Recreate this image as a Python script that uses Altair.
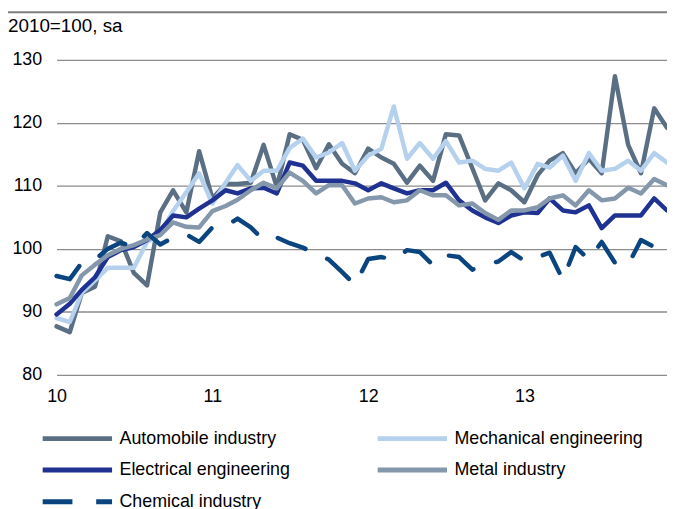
import altair as alt
import pandas as pd

# ---- data (monthly, Jan 2010 - Dec 2013, index 2010=100, seasonally adjusted) ----
months = pd.date_range("2010-01-01", periods=48, freq="MS")

series_names = [
    "Automobile industry",
    "Mechanical engineering",
    "Electrical engineering",
    "Metal industry",
    "Chemical industry",
]

automobile = [87.7, 86.8, 93.0, 94.0, 102.0, 101.2, 96.2, 94.2, 105.8, 109.3,
              105.8, 115.5, 108.0, 110.3, 110.3, 110.5, 116.5, 109.8, 118.2, 117.3,
              112.8, 116.6, 113.5, 112.0, 115.9, 114.5, 113.5, 110.5, 113.2, 110.8,
              118.2, 118.0, 112.8, 107.7, 110.4, 109.3, 107.4, 111.7, 114.0, 115.2,
              112.0, 114.3, 112.0, 127.4, 116.5, 112.0, 122.3, 119.2]
mechanical = [89.0, 88.4, 93.0, 95.0, 97.0, 97.0, 97.0, 101.1, 102.4, 106.0,
              109.0, 112.0, 107.2, 110.5, 113.3, 110.8, 112.4, 112.4, 116.0, 117.5,
              114.5, 115.3, 116.8, 112.4, 114.8, 115.9, 122.6, 114.3, 116.8, 114.3,
              117.1, 113.7, 114.0, 112.7, 112.4, 113.7, 109.6, 113.5, 112.9, 114.8,
              110.8, 115.2, 112.4, 112.7, 114.0, 112.4, 115.2, 113.7]
electrical = [89.6, 91.3, 93.5, 95.5, 98.7, 99.8, 100.3, 101.4, 103.0, 105.3,
              105.0, 106.4, 107.7, 109.3, 108.8, 109.6, 109.7, 108.8, 113.7, 113.2,
              110.8, 110.8, 110.8, 110.4, 109.3, 110.4, 109.6, 108.8, 109.3, 109.3,
              110.5, 107.7, 106.1, 105.0, 104.1, 105.3, 105.8, 105.7, 108.0, 106.1,
              105.8, 106.9, 103.3, 105.3, 105.3, 105.3, 108.0, 106.1]
metal = [91.2, 92.2, 95.8, 97.5, 99.0, 100.0, 100.6, 101.5, 102.2, 104.2,
         103.5, 103.4, 106.0, 106.8, 107.8, 109.3, 110.5, 109.6, 112.1, 110.8,
         108.8, 110.1, 110.1, 107.2, 108.0, 108.2, 107.4, 107.7, 109.3, 108.5,
         108.5, 106.9, 107.2, 105.7, 104.6, 106.1, 106.1, 106.6, 108.0, 108.5,
         106.9, 109.3, 107.7, 108.0, 109.7, 108.8, 111.1, 110.1]
chemical = [95.7, 95.2, 97.8, 98.3, 100.0, 101.0, 100.3, 102.5, 100.7, 101.8,
            102.3, 101.1, 103.4, 103.6, 104.8, 103.4, 101.4, 101.8, 100.9, 100.2,
            99.2, 98.3, 96.3, 94.3, 98.4, 98.7, 98.3, 99.8, 99.5, 97.4,
            99.0, 98.7, 96.7, 97.5, 98.0, 99.5, 98.1, 98.7, 99.4, 95.1,
            100.3, 98.3, 101.1, 97.8, 97.5, 101.4, 100.3, 101.5]

y_ticks = [80, 90, 100, 110, 120, 130]
title_text = "2010=100, sa"

colors = ["#5b6f84", "#b5d1ee", "#1f3292", "#8597ab", "#0b4580"]
dashes = [[], [], [], [], [30, 24]]

values = [automobile, mechanical, electrical, metal, chemical]
rows = []
for name, vals in zip(series_names, values):
    for m, v in zip(months, vals):
        rows.append({"month": m, "series": name, "value": v})
df = pd.DataFrame(rows)

FONT = "Liberation Sans"
FS = 18

# long horizontal legend line drawn as a custom path (scaled by sqrt(size)/2)
leg = alt.Legend(
    title=None, orient="none", direction="horizontal", columns=2,
    legendX=11.5, legendY=372.5,
    symbolType="M-5,0H5", symbolSize=196, symbolStrokeWidth=5,
    labelFont=FONT, labelFontSize=FS, labelColor="#000000",
    labelOffset=33, columnPadding=77, rowPadding=11, padding=0,
    labelLimit=400,
)

lines = alt.Chart(df).mark_line(
    strokeWidth=4.5, strokeCap="round", strokeJoin="round"
).encode(
    x=alt.X(
        "month:T",
        title=None,
        scale=alt.Scale(domain=[alt.DateTime(year=2010, month=1, date=1),
                                alt.DateTime(year=2013, month=12, date=1)]),
        axis=alt.Axis(format="%y", tickCount={"interval": "year", "step": 1},
                      ticks=False, domain=False, grid=False, labelPadding=13,
                      labelFlush=False, labelFont=FONT, labelFontSize=FS,
                      labelColor="#000000"),
    ),
    y=alt.Y(
        "value:Q",
        title=None,
        scale=alt.Scale(domain=[80, 130], nice=False, zero=False),
        axis=alt.Axis(values=y_ticks, ticks=False, domain=False, grid=True,
                      gridColor="#8c8c8c", gridWidth=1.3, labelPadding=15,
                      labelFont=FONT, labelFontSize=FS, labelColor="#000000"),
    ),
    color=alt.Color("series:N", scale=alt.Scale(domain=series_names, range=colors),
                    legend=leg),
    strokeDash=alt.StrokeDash("series:N",
                              scale=alt.Scale(domain=series_names, range=dashes),
                              legend=leg),
)

top_rule = alt.Chart(pd.DataFrame({"k": [0]})).mark_rule(
    color="#7f7f7f", strokeWidth=2
).encode(x=alt.value(-49), x2=alt.value(616), y=alt.value(-48))

title_layer = alt.Chart(pd.DataFrame({"t": [title_text]})).mark_text(
    align="left", baseline="middle", font=FONT, fontSize=19, color="#000000"
).encode(x=alt.value(-49), y=alt.value(-34), text="t:N")

chart = alt.layer(lines, top_rule, title_layer).properties(
    width=616, height=318,
    autosize=alt.AutoSizeParams(type="none"),
    padding={"left": 49, "top": 50, "right": 0, "bottom": 133},
).configure_view(stroke=None)

chart.save("out.html", embed_options={"renderer": "svg", "actions": False})
